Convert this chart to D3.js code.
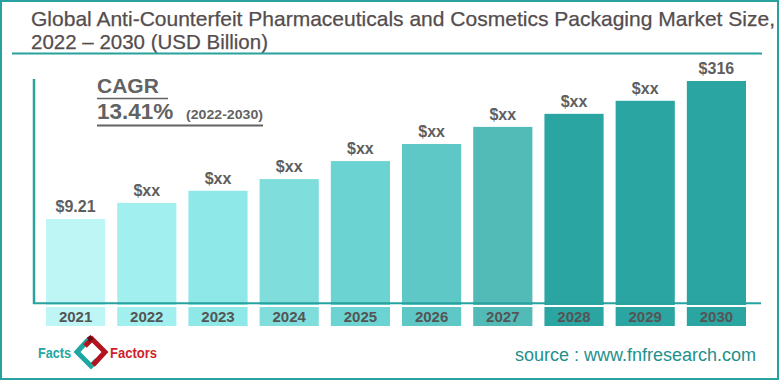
<!DOCTYPE html>
<html>
<head>
<meta charset="utf-8">
<script src="https://cdn.jsdelivr.net/npm/d3@7"></script>
<style>
  html, body { margin: 0; padding: 0; background: #ffffff; }
  svg { display: block; }
  text { font-family: "Liberation Sans", Arial, sans-serif; }
</style>
</head>
<body>
<svg id="chart" width="780" height="381"></svg>
<script>
// ---- data ----
const years = ["2021", "2022", "2023", "2024", "2025", "2026", "2027", "2028", "2029", "2030"];
const values = [9.21, 45, 72, 98, 138, 176, 214, 243, 272, 316];
const valueLabels = ["$9.21", "$xx", "$xx", "$xx", "$xx", "$xx", "$xx", "$xx", "$xx", "$316"];
const barColors = ["#bdf6f5", "#a1f0ef", "#8de8e7", "#7fdedc", "#6bd3d1", "#5ec8c6", "#52bbb8", "#2ba5a2", "#2ba5a2", "#2ba5a2"];
const titleLines = ["Global Anti-Counterfeit Pharmaceuticals and Cosmetics Packaging Market Size,", "2022 \u2013 2030 (USD Billion)"];
const cagrLabel = "CAGR";
const cagrValue = "13.41%";
const cagrPeriod = "(2022-2030)";
const sourceText = "source : www.fnfresearch.com";

const teal = "#27a29e";
const textGray = "#5e5e5e";

const svg = d3.select("#chart");

// outer border
svg.append("rect").attr("x", 1).attr("y", 1).attr("width", 777).attr("height", 378)
  .attr("fill", "none").attr("stroke", teal).attr("stroke-width", 2);

// title
const title = svg.append("g").style("font-family", "'Liberation Sans Narrow', 'Liberation Sans', Arial, sans-serif");
title.append("text").attr("x", 31).attr("y", 26).attr("font-size", 21).attr("fill", "#554d4d")
  .attr("stroke", "#554d4d").attr("stroke-width", 0.25)
  .attr("textLength", 744).attr("lengthAdjust", "spacingAndGlyphs").text(titleLines[0]);
title.append("text").attr("x", 31).attr("y", 49).attr("font-size", 21).attr("fill", "#554d4d")
  .attr("stroke", "#554d4d").attr("stroke-width", 0.25)
  .attr("textLength", 237).attr("lengthAdjust", "spacingAndGlyphs").text(titleLines[1]);
svg.append("line").attr("x1", 12).attr("x2", 762).attr("y1", 53.5).attr("y2", 53.5)
  .attr("stroke", teal).attr("stroke-width", 2);

// scales
const x = d3.scaleBand().domain(years).range([46, 746]).paddingInner(0.169).paddingOuter(0);
const y = d3.scaleLinear().domain([-177.5, 316]).range([303, 81]);

// bars
svg.append("g").selectAll("rect").data(years).join("rect")
  .attr("x", d => x(d))
  .attr("y", (d, i) => y(values[i]))
  .attr("width", x.bandwidth())
  .attr("height", (d, i) => 305 - y(values[i]))
  .attr("fill", (d, i) => barColors[i]);

// value labels
svg.append("g").selectAll("text").data(years).join("text")
  .attr("x", d => x(d) + x.bandwidth() / 2)
  .attr("y", (d, i) => y(values[i]) - 7)
  .attr("text-anchor", "middle")
  .attr("font-size", 16).attr("font-weight", "bold").attr("fill", textGray)
  .text((d, i) => valueLabels[i]);

// axes lines
svg.append("line").attr("x1", 34).attr("x2", 34).attr("y1", 79).attr("y2", 304)
  .attr("stroke", teal).attr("stroke-width", 2.5);
svg.append("line").attr("x1", 33).attr("x2", 761).attr("y1", 303.3).attr("y2", 303.3)
  .attr("stroke", teal).attr("stroke-width", 2);

// category label boxes
const xAxis = svg.append("g").attr("transform", "translate(0,307)");
xAxis.selectAll("rect").data(years).join("rect")
  .attr("x", d => x(d)).attr("y", 0)
  .attr("width", x.bandwidth()).attr("height", 19)
  .attr("fill", (d, i) => barColors[i]);
xAxis.selectAll("text").data(years).join("text")
  .attr("x", d => x(d) + x.bandwidth() / 2).attr("y", 15)
  .attr("text-anchor", "middle").attr("font-size", 15).attr("font-weight", "bold")
  .attr("fill", "#555555").text(d => d);

// CAGR block
const cg = svg.append("g").attr("fill", "#626262");
cg.append("text").attr("x", 97).attr("y", 93).attr("font-size", 21).attr("font-weight", "bold").text(cagrLabel);
svg.append("line").attr("x1", 97).attr("x2", 168).attr("y1", 98.5).attr("y2", 98.5).attr("stroke", "#626262").attr("stroke-width", 1.6);
cg.append("text").attr("x", 97).attr("y", 118.5).attr("font-size", 22.5).attr("font-weight", "bold").text(cagrValue);
cg.append("text").attr("x", 186).attr("y", 119).attr("font-size", 13).attr("font-weight", "bold")
  .attr("textLength", 77).attr("lengthAdjust", "spacingAndGlyphs").text(cagrPeriod);
svg.append("line").attr("x1", 97).attr("x2", 263).attr("y1", 125.5).attr("y2", 125.5).attr("stroke", "#626262").attr("stroke-width", 2);

// logo
const logo = svg.append("g");
logo.append("text").attr("x", 38).attr("y", 358).attr("font-size", 14).attr("font-weight", "bold")
  .attr("fill", "#1ea6a1").attr("textLength", 33).attr("lengthAdjust", "spacingAndGlyphs").text("Facts");
logo.append("text").attr("x", 110).attr("y", 358).attr("font-size", 14).attr("font-weight", "bold")
  .attr("fill", "#d01f2c").attr("textLength", 47).attr("lengthAdjust", "spacingAndGlyphs").text("Factors");
logo.append("path").attr("d", "M88,340 L77,352 L91,366 L97,360")
  .attr("fill", "none").attr("stroke", "#1ea6a1").attr("stroke-width", 5).attr("stroke-linejoin", "miter");
logo.append("path").attr("d", "M85,346 L92,339 L105,352 L93,365")
  .attr("fill", "none").attr("stroke", "#b3121f").attr("stroke-width", 5).attr("stroke-linejoin", "miter");
logo.append("path").attr("d", "M88,340 L92,337")
  .attr("fill", "none").attr("stroke", "#6e0a12").attr("stroke-width", 5);

// source
svg.append("text").attr("x", 756).attr("y", 361).attr("text-anchor", "end")
  .attr("font-size", 18).attr("fill", "#23908c").text(sourceText);
</script>
</body>
</html>
